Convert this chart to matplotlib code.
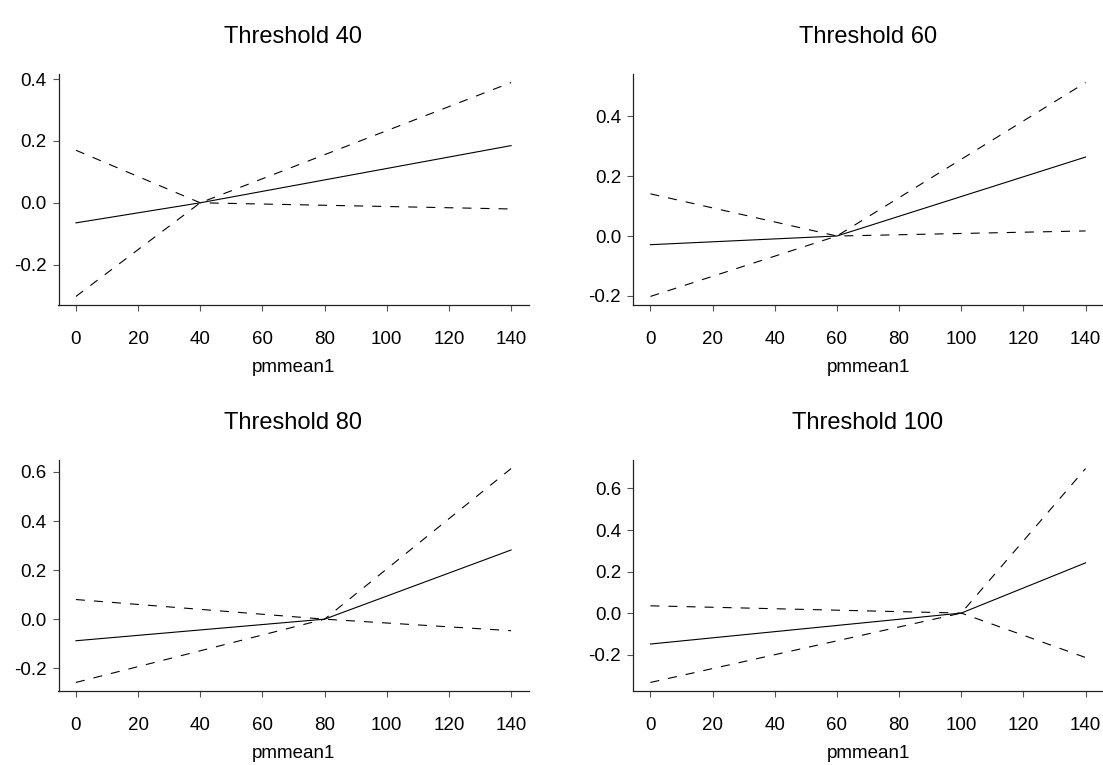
import matplotlib
matplotlib.use('Agg')
import matplotlib.pyplot as plt
from matplotlib.ticker import MultipleLocator, FormatStrFormatter

plt.rcParams['font.family'] = ['Liberation Sans', 'DejaVu Sans']
plt.rcParams['axes.unicode_minus'] = False
plt.rcParams['lines.scale_dashes'] = False

thresholds = [40, 60, 80, 100]
# each curve is given at x = 0, threshold, 140
est = [[-0.065, 0.0, 0.185],
       [-0.029, 0.0, 0.264],
       [-0.088, 0.0, 0.282],
       [-0.149, 0.0, 0.242]]
band_a = [[0.170, 0.0, -0.020],
          [0.141, 0.0, 0.017],
          [0.080, 0.0, -0.047],
          [0.035, 0.0, -0.214]]
band_b = [[-0.303, 0.0, 0.389],
          [-0.202, 0.0, 0.513],
          [-0.258, 0.0, 0.614],
          [-0.334, 0.0, 0.696]]
xticks = [0, 20, 40, 60, 80, 100, 120, 140]
xlabel = 'pmmean1'

W, H = 1103, 765
fig = plt.figure(figsize=(W / 100, H / 100), dpi=100)

# panel boxes in pixels: left, top, width, height
boxes = [(58.5, 74, 470, 231),
         (633, 74, 470, 231),
         (58.5, 460, 470, 231),
         (633, 460, 470, 231)]

for i, th in enumerate(thresholds):
    l, t, w, h = boxes[i]
    ax = fig.add_axes([l / W, 1 - (t + h) / H, w / W, h / H])
    xs = [0, th, 140]
    ax.plot(xs, est[i], color='black', lw=0.8)
    ax.plot(xs, band_a[i], color='black', lw=0.8, ls='--', dashes=(6.5, 6.5))
    ax.plot(xs, band_b[i], color='black', lw=0.8, ls='--', dashes=(6.5, 6.5))
    ax.margins(0.04)
    ax.set_xticks(xticks)
    ax.yaxis.set_major_locator(MultipleLocator(0.2))
    ax.yaxis.set_major_formatter(FormatStrFormatter('%.1f'))
    ax.spines['top'].set_visible(False)
    ax.spines['right'].set_visible(False)
    for s in ('left', 'bottom'):
        ax.spines[s].set_color('#222222')
        ax.spines[s].set_linewidth(0.9)
    ax.tick_params(length=4.5, width=0.8, color='#555555', labelsize=13.5)
    ax.tick_params(axis='x', pad=14)
    ax.tick_params(axis='y', pad=4)
    ax.set_xlabel(xlabel, fontsize=13.5, labelpad=8)
    ax.set_title('Threshold %d' % th, fontsize=17, pad=22.5)

fig.savefig('out.png', dpi=100)
